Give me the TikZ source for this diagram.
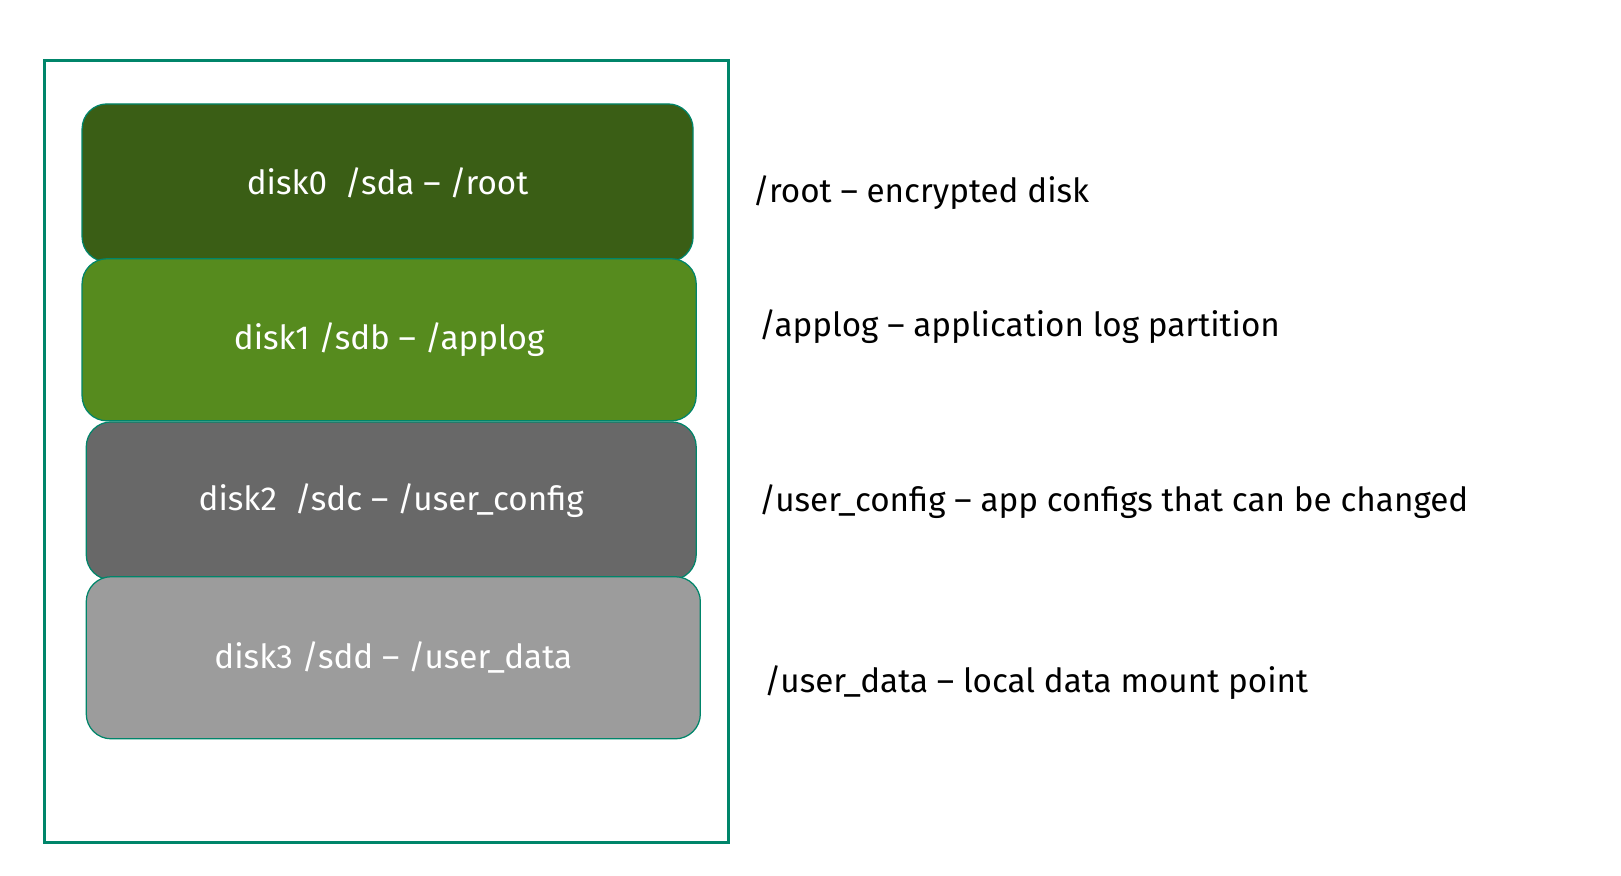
\documentclass[tikz,border=0pt]{standalone}
\usepackage{fontspec}
\setmainfont{Fira Sans}
\usepackage{xcolor}
\usetikzlibrary{positioning}
\definecolor{frameteal}{HTML}{00856A}
\definecolor{diskdark}{HTML}{3A5E15}
\definecolor{disklight}{HTML}{568B1E}
\definecolor{diskgrey}{HTML}{686868}
\definecolor{disksilver}{HTML}{9C9C9C}
\tikzset{
  disk/.style={draw=frameteal, line width=0.6pt, rounded corners=12pt,
    text=white, font=\fontsize{16}{19}\selectfont, inner sep=0pt},
  mount/.style={anchor=west, font=\fontsize{16}{19}\selectfont, inner sep=0pt}
}
\begin{document}
\begin{tikzpicture}[x=0.5pt,y=-0.5pt]
  \useasboundingbox (0,0) rectangle (1560,843);

  % Outer frame
  \draw[frameteal, line width=1.5pt] (43,58) rectangle (701,811);

  % Disks
  \node[disk, fill=diskdark, minimum width=294pt, minimum height=76pt] (disk0) at (373,176) {disk0\ \ /sda -- /root};
  \node[disk, fill=disklight, minimum width=295.5pt, minimum height=78pt] (disk1) at (374.5,327) {disk1 /sdb -- /applog};
  \node[disk, fill=diskgrey, minimum width=293.5pt, minimum height=76pt] (disk2) at (376.5,482) {disk2\ \ /sdc -- /user\_config};
  \node[disk, fill=disksilver, minimum width=295.5pt, minimum height=78pt] (disk3) at (378.5,633) {disk3 /sdd -- /user\_data};

  % Mount points
  \node[mount] (root) at (724,185) {/root -- encrypted disk};
  \node[mount] (applog) at (730,314) {/applog -- application log partition};
  \node[mount] (userconfig) at (730,483) {/user\_config -- app configs that can be changed};
  \node[mount] (userdata) at (735,657) {/user\_data -- local data mount point};
\end{tikzpicture}
\end{document}
